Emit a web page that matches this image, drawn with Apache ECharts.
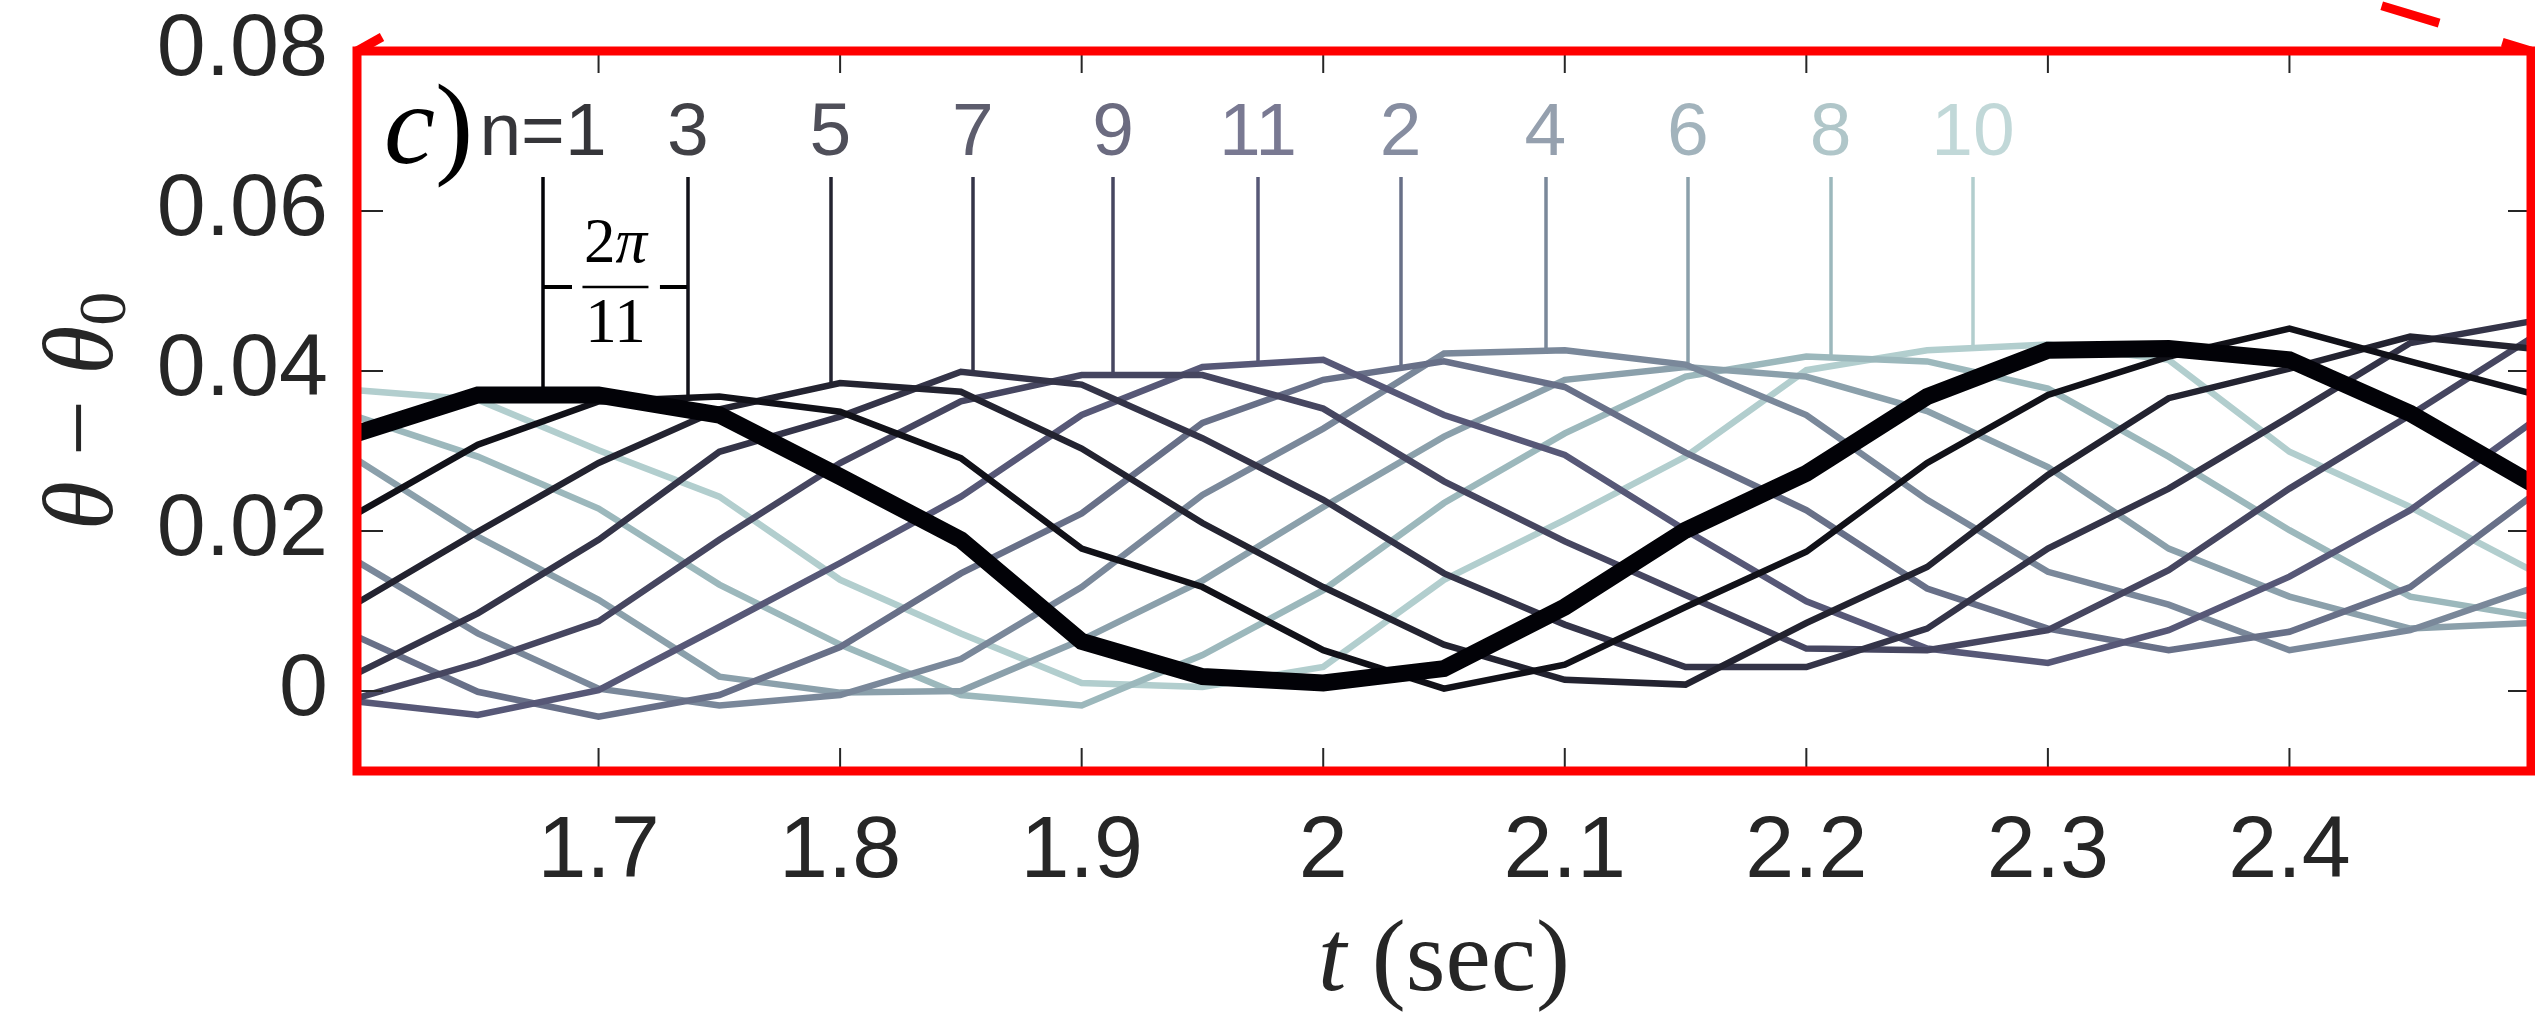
<!DOCTYPE html>
<html>
<head>
<meta charset="utf-8">
<script src="https://cdn.jsdelivr.net/npm/echarts@6/dist/echarts.min.js"></script>
<style>
  html, body { margin: 0; padding: 0; background: #ffffff; }
  #chart { width: 2535px; height: 1014px; }
</style>
</head>
<body>
<div id="chart"></div>
<script>
// Sample times (s)
const times = [1.6, 1.65, 1.7, 1.75, 1.8, 1.85, 1.9, 1.95, 2.0, 2.05, 2.1, 2.15, 2.2, 2.25, 2.3, 2.35, 2.4, 2.45, 2.5];

// theta - theta0 for each segment n
const n1  = [0.0322, 0.0370, 0.0370, 0.0345, 0.0268, 0.0189, 0.0062, 0.0018, 0.0010, 0.0028, 0.0105, 0.0201, 0.0272, 0.0368, 0.0426, 0.0428, 0.0414, 0.0347, 0.0260];
const n3  = [0.0222, 0.0308, 0.0362, 0.0368, 0.0349, 0.0291, 0.0178, 0.0130, 0.0051, 0.0003, 0.0033, 0.0105, 0.0174, 0.0285, 0.0370, 0.0418, 0.0453, 0.0412, 0.0372];
const n5  = [0.0110, 0.0199, 0.0285, 0.0352, 0.0385, 0.0374, 0.0303, 0.0210, 0.0130, 0.0058, 0.0014, 0.0008, 0.0085, 0.0155, 0.0270, 0.0366, 0.0403, 0.0443, 0.0428];
const n7  = [0.0022, 0.0097, 0.0189, 0.0299, 0.0343, 0.0399, 0.0383, 0.0316, 0.0239, 0.0147, 0.0083, 0.0030, 0.0030, 0.0078, 0.0178, 0.0253, 0.0343, 0.0435, 0.0462];
const n9  = [-0.0009, 0.0035, 0.0087, 0.0189, 0.0285, 0.0362, 0.0395, 0.0395, 0.0353, 0.0262, 0.0187, 0.0120, 0.0053, 0.0051, 0.0076, 0.0151, 0.0253, 0.0345, 0.0441];
const n11 = [-0.0013, -0.0030, 0.0001, 0.0080, 0.0160, 0.0243, 0.0345, 0.0405, 0.0414, 0.0345, 0.0295, 0.0201, 0.0112, 0.0053, 0.0035, 0.0076, 0.0143, 0.0226, 0.0335];
const n2  = [0.0068, -0.0001, -0.0032, -0.0005, 0.0055, 0.0147, 0.0222, 0.0335, 0.0389, 0.0412, 0.0380, 0.0298, 0.0226, 0.0128, 0.0078, 0.0051, 0.0074, 0.0130, 0.0243];
const n4  = [0.0162, 0.0072, 0.0003, -0.0018, -0.0005, 0.0040, 0.0130, 0.0245, 0.0328, 0.0422, 0.0426, 0.0408, 0.0345, 0.0239, 0.0149, 0.0108, 0.0051, 0.0076, 0.0128];
const n6  = [0.0289, 0.0193, 0.0114, 0.0018, -0.0002, 0.0000, 0.0064, 0.0138, 0.0230, 0.0318, 0.0389, 0.0405, 0.0393, 0.0350, 0.0280, 0.0178, 0.0118, 0.0078, 0.0085];
const n8  = [0.0343, 0.0293, 0.0228, 0.0133, 0.0058, -0.0005, -0.0018, 0.0045, 0.0126, 0.0235, 0.0322, 0.0393, 0.0418, 0.0412, 0.0378, 0.0293, 0.0201, 0.0118, 0.0093];
const n10 = [0.0376, 0.0364, 0.0301, 0.0243, 0.0139, 0.0072, 0.0010, 0.0005, 0.0030, 0.0139, 0.0214, 0.0293, 0.0401, 0.0426, 0.0433, 0.0414, 0.0299, 0.0230, 0.0151];

// Segments in phase order, their label text and the time of each labelled crest
const phaseOrder  = [1, 3, 5, 7, 9, 11, 2, 4, 6, 8, 10];
const crestLabels = ['n=1', '3', '5', '7', '9', '11', '2', '4', '6', '8', '10'];
const crestTimes  = [1.677, 1.737, 1.796, 1.855, 1.913, 1.973, 2.032, 2.092, 2.151, 2.210, 2.269];

// Axis ticks and their labels
const xTicks = [1.7, 1.8, 1.9, 2.0, 2.1, 2.2, 2.3, 2.4];
const xTickLabels = ['1.7', '1.8', '1.9', '2', '2.1', '2.2', '2.3', '2.4'];
const yTicks = [0, 0.02, 0.04, 0.06, 0.08];
const yTickLabels = ['0', '0.02', '0.04', '0.06', '0.08'];

// ---------------------------------------------------------------------------
const valuesOf = { 1: n1, 2: n2, 3: n3, 4: n4, 5: n5, 6: n6, 7: n7, 8: n8, 9: n9, 10: n10, 11: n11 };
// "bone" ramp, dark to light, following the phase order
const ramp = ['#020207', '#111118', '#232330', '#343448', '#464660', '#575877',
              '#687088', '#7a889a', '#8ba0ab', '#9cb8bc', '#b2cece'];
const colorOf = {};
phaseOrder.forEach((n, i) => { colorOf[n] = ramp[i]; });

const X_MIN = 1.6, X_MAX = 2.5, Y_MIN = -0.01, Y_MAX = 0.08;
const LEADER_TOP = 0.06425, LABEL_Y = 0.0696, BRACKET_Y = 0.0505;
const TICK_COLOR = '#262626';
const SERIF = "'Liberation Serif', 'DejaVu Serif', serif";
const SANS = "'Liberation Sans', Arial, sans-serif";

function valueAt(vals, t) {
  for (let i = 0; i < times.length - 1; i++) {
    if (t >= times[i] - 1e-9 && t <= times[i + 1] + 1e-9) {
      const f = (t - times[i]) / (times[i + 1] - times[i]);
      return vals[i] + f * (vals[i + 1] - vals[i]);
    }
  }
  return vals[vals.length - 1];
}
function findLabel(ticks, labels, v) {
  for (let i = 0; i < ticks.length; i++) if (Math.abs(ticks[i] - v) < 1e-9) return labels[i];
  return '';
}

const chart = echarts.init(document.getElementById('chart'), null, { renderer: 'canvas', width: 2535, height: 1014 });

// curves: lightest drawn first, thick n=1 on top
const drawOrder = phaseOrder.slice().reverse();
const curveSeries = drawOrder.map(n => ({
  type: 'line',
  name: 'n=' + n,
  data: times.map((t, i) => [t, valuesOf[n][i]]),
  symbol: 'none',
  showSymbol: false,
  silent: true,
  clip: true,
  z: 3,
  lineStyle: { color: colorOf[n], width: n === 1 ? 17 : 6.5, cap: 'butt', join: 'miter' }
}));

const leaderSeries = {
  type: 'lines',
  coordinateSystem: 'cartesian2d',
  silent: true,
  z: 2,
  data: phaseOrder.map((n, i) => ({
    coords: [[crestTimes[i], LEADER_TOP], [crestTimes[i], valueAt(valuesOf[n], crestTimes[i])]],
    lineStyle: { color: colorOf[n], width: 3.5, opacity: 1 }
  }))
};

const labelSeries = {
  type: 'scatter',
  silent: true,
  symbolSize: 0,
  z: 4,
  data: phaseOrder.map((n, i) => ({
    value: [crestTimes[i], LABEL_Y, crestLabels[i]],
    label: { color: colorOf[n] }
  })),
  label: {
    show: true,
    position: 'inside',
    formatter: p => p.value[2],
    fontFamily: SANS,
    fontSize: 75,
    align: 'center',
    verticalAlign: 'middle'
  }
};

chart.setOption({
  animation: false,
  backgroundColor: '#ffffff',
  grid: { left: 357, right: 4, top: 51, bottom: 243, outerBoundsMode: 'none', show: false },
  xAxis: {
    type: 'value', min: X_MIN, max: X_MAX, interval: 0.1,
    axisLine: { show: false }, axisTick: { show: false }, splitLine: { show: false },
    axisLabel: {
      margin: 38, color: TICK_COLOR, fontFamily: SANS, fontSize: 88,
      showMinLabel: false, showMaxLabel: false,
      formatter: v => findLabel(xTicks, xTickLabels, v)
    }
  },
  yAxis: {
    type: 'value', min: Y_MIN, max: Y_MAX, interval: 0.01,
    axisLine: { show: false }, axisTick: { show: false }, splitLine: { show: false },
    axisLabel: {
      margin: 29, color: TICK_COLOR, fontFamily: SANS, fontSize: 88,
      formatter: v => findLabel(yTicks, yTickLabels, v)
    }
  },
  series: [leaderSeries].concat(curveSeries, [labelSeries])
});

// ---------------------------------------------------------------------------
// frame, ticks, titles and annotations placed through the grid's scales
const px = (t, v) => chart.convertToPixel({ gridIndex: 0 }, [t, v]);
const [gx0, gy0] = px(X_MIN, Y_MAX);
const [gx1, gy1] = px(X_MAX, Y_MIN);
const g = [];
const seg = (x1, y1, x2, y2, color, w, extra) => Object.assign({
  type: 'line', silent: true, z: 50,
  shape: { x1, y1, x2, y2 },
  style: { stroke: color, lineWidth: w }
}, extra || {});

xTicks.forEach(t => {
  const x = px(t, 0)[0];
  g.push(seg(x, gy1, x, gy1 - 23, TICK_COLOR, 2));
  g.push(seg(x, gy0, x, gy0 + 22, TICK_COLOR, 2));
});
yTicks.forEach(v => {
  const y = px(X_MIN, v)[1];
  g.push(seg(gx0, y, gx0 + 26, y, TICK_COLOR, 2));
  g.push(seg(gx1, y, gx1 - 23, y, TICK_COLOR, 2));
});

// red frame with the connector marks leaving its top corners
g.push({ type: 'rect', silent: true, z: 100,
  shape: { x: gx0, y: gy0, width: gx1 - gx0, height: gy1 - gy0 },
  style: { fill: null, stroke: '#ff0000', lineWidth: 9 } });
g.push(seg(gx0, gy0, gx0 + 25, gy0 - 14, '#ff0000', 9, { z: 100 }));
g.push({ type: 'line', silent: true, z: 100,
  shape: { x1: gx1, y1: gy0, x2: gx1 - 175, y2: gy0 - 53 },
  style: { stroke: '#ff0000', lineWidth: 9, lineDash: [60, 66], lineDashOffset: 30 } });

// panel tag
g.push({ type: 'text', silent: true, z: 60, x: 384, y: 133,
  style: { text: '{i|c})', fontFamily: SERIF, fontSize: 115, fill: '#000000',
    verticalAlign: 'middle', align: 'left',
    rich: { i: { fontFamily: SERIF, fontSize: 115, fontStyle: 'italic', fill: '#000000' } } } });

// 2pi/11 spacing between the n=1 and n=3 crests
const xa = px(crestTimes[0], BRACKET_Y);
const xb = px(crestTimes[1], BRACKET_Y);
const midX = (xa[0] + xb[0]) / 2, by = xa[1];
g.push(seg(xa[0] + 1, by, xa[0] + 29, by, '#000000', 4, { z: 60 }));
g.push(seg(xb[0] - 28, by, xb[0] - 1, by, '#000000', 4, { z: 60 }));
g.push(seg(midX - 33, by, midX + 33, by, '#000000', 2.5, { z: 60 }));
g.push({ type: 'text', silent: true, z: 60, x: midX, y: by - 42,
  style: { text: '2{i|π}', fontFamily: SERIF, fontSize: 63, fill: '#000000', align: 'center', verticalAlign: 'middle',
    rich: { i: { fontFamily: SERIF, fontSize: 63, fontStyle: 'italic', fill: '#000000' } } } });
g.push({ type: 'text', silent: true, z: 60, x: midX, y: by + 38,
  style: { text: '11', fontFamily: SERIF, fontSize: 63, fill: '#000000', align: 'center', verticalAlign: 'middle' } });

// axis titles
g.push({ type: 'text', silent: true, z: 60, x: (gx0 + gx1) / 2, y: 963,
  style: { text: '{i|t} (sec)', fontFamily: SERIF, fontSize: 102, fill: TICK_COLOR, align: 'center', verticalAlign: 'middle',
    rich: { i: { fontFamily: SERIF, fontSize: 102, fontStyle: 'italic', fill: TICK_COLOR } } } });
g.push({ type: 'text', silent: true, z: 60, x: 86, y: (gy0 + gy1) / 2, rotation: Math.PI / 2,
  style: { text: '{i|θ} − {i|θ}{s|0}', fontFamily: SERIF, fontSize: 100, fill: TICK_COLOR, align: 'center', verticalAlign: 'middle',
    rich: {
      i: { fontFamily: SERIF, fontSize: 100, fontStyle: 'italic', fill: TICK_COLOR, lineHeight: 110 },
      s: { fontFamily: SERIF, fontSize: 68, fill: TICK_COLOR, lineHeight: 56, verticalAlign: 'bottom' }
    } } });

chart.setOption({ graphic: { elements: g } });
</script>
</body>
</html>
